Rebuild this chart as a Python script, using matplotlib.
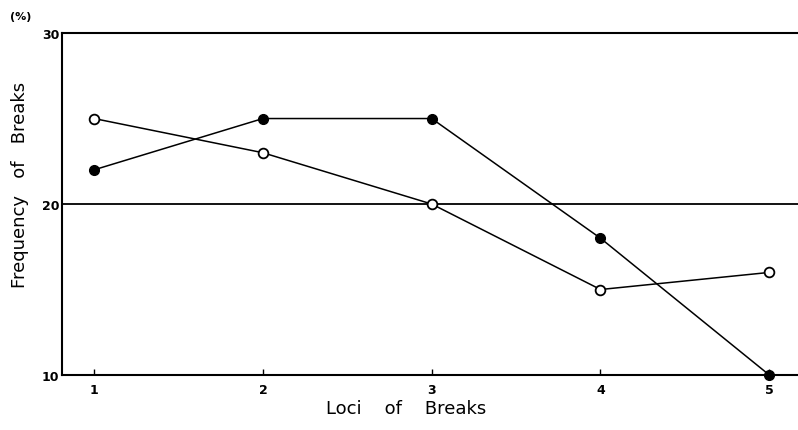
import matplotlib.pyplot as plt

loci = [1, 2, 3, 4, 5]
open_pct = [25, 23, 20, 15, 16]
filled_pct = [22, 25, 25, 18, 10]
yticks = [10, 20, 30]

fig = plt.figure(figsize=(7.98, 4.31), dpi=100)
ax = fig.add_axes([0.0777, 0.1276, 0.9223, 0.7934])

ax.axhline(20, color='black', lw=1.3, zorder=1)
ax.plot(loci, filled_pct, color='black', lw=1.1, marker='o', ms=7,
        mfc='black', mec='black', zorder=3, clip_on=False)
ax.plot(loci, open_pct, color='black', lw=1.1, marker='o', ms=7,
        mfc='white', mec='black', mew=1.3, zorder=3, clip_on=False)

ax.set_xlim(0.81, 5.17)
ax.set_ylim(10, 30)
ax.set_xticks(loci)
ax.set_yticks(yticks)
ax.tick_params(axis='x', direction='in', length=4, width=1, pad=6, labelsize=9)
ax.tick_params(axis='y', length=0, pad=2, labelsize=9)
for lab in ax.get_xticklabels() + ax.get_yticklabels():
    lab.set_fontweight('bold')

ax.spines['right'].set_visible(False)
for s in ['left', 'top', 'bottom']:
    ax.spines[s].set_linewidth(1.5)

ax.set_xlabel('Loci    of    Breaks', fontsize=13)
ax.xaxis.set_label_coords(0.467, -0.07)
ax.set_ylabel('Frequency   of   Breaks', fontsize=13)
ax.yaxis.set_label_coords(-0.045, 0.56)
fig.text(0.012, 0.96, '(%)', fontsize=8, fontweight='bold', ha='left', va='center')

fig.savefig('out.png', dpi=100)
